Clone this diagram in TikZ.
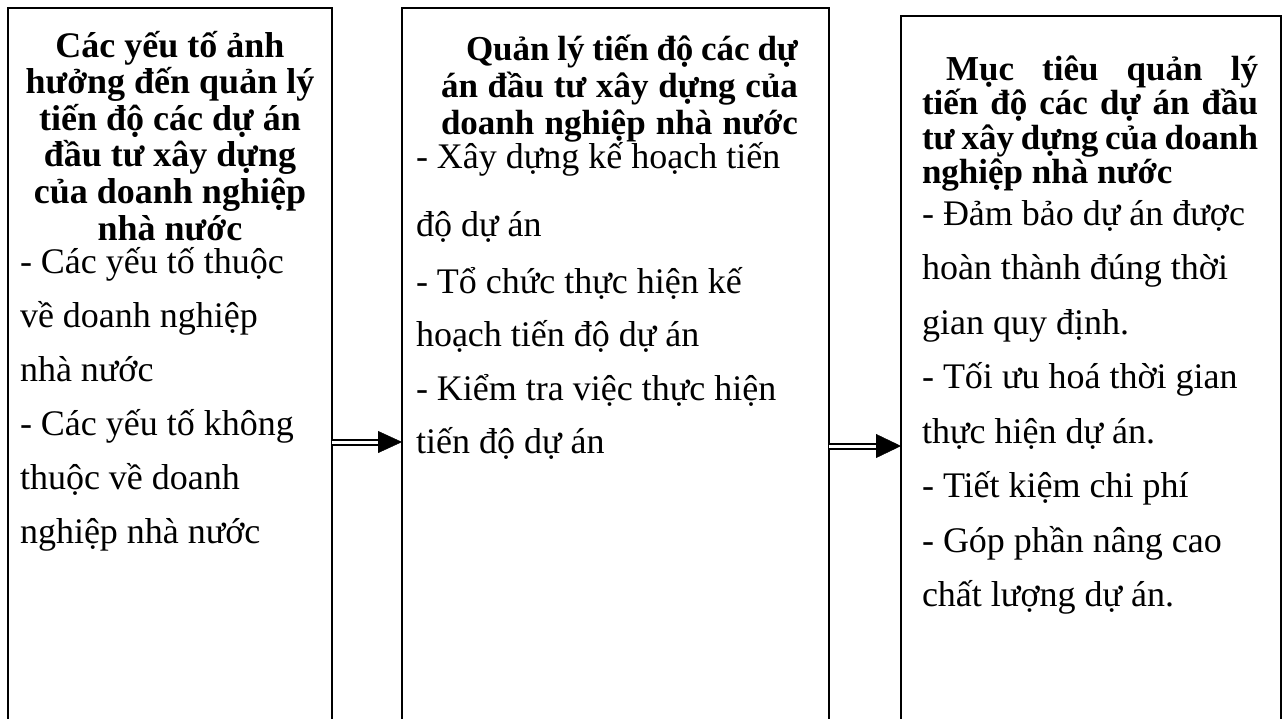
\documentclass[tikz,border=0pt]{standalone}
\usepackage{fontspec}
\setmainfont{Liberation Serif}
\usetikzlibrary{arrows.meta}
\newcommand\jl[2]{\makebox[#1][s]{#2}}
\newcommand\cl[1]{\makebox[300pt][c]{#1}}
\newcommand\fsz{36pt}
\tikzset{
  box/.style={draw, line width=2pt, anchor=north west, inner sep=0pt, outer sep=0pt, minimum height=760pt},
  txt/.style={anchor=base west, inner sep=0pt, outer sep=0pt},
  dbl/.style={draw, line width=2pt, double, double distance=3pt},
  tipline/.style={line width=0.4pt}
}
\begin{document}
\begin{tikzpicture}[x=1pt,y=-1pt]
\useasboundingbox (0,0) rectangle (1284,718);
% boxes (open at the bottom edge of the page)
\node[box, minimum width=324pt] (b1) at (8,8) {};
\node[box, minimum width=427pt] (b2) at (402,8) {};
\node[box, minimum width=380pt] (b3) at (901,16) {};

% box 1 text
\node[txt] (t1) at (20,57) {\parbox[t]{400pt}{\lineskiplimit=-1000pt\lineskip=0pt\parskip=0pt\raggedright
\fontsize{\fsz}{36.6pt}\selectfont\bfseries
\cl{Các yếu tố ảnh}\\
\cl{hưởng đến quản lý}\\
\cl{tiến độ các dự án}\\
\cl{đầu tư xây dựng}\\
\cl{của doanh nghiệp}\\
\cl{nhà nước}\par
\fontsize{\fsz}{33pt}\selectfont\mdseries
- Các yếu tố thuộc\\[21pt]
về doanh nghiệp\\[21pt]
nhà nước\\[21pt]
- Các yếu tố không\\[21pt]
thuộc về doanh\\[21pt]
nghiệp nhà nước\par}};

% box 2 text
\node[txt] (t2) at (416,60) {\parbox[t]{420pt}{\lineskiplimit=-1000pt\lineskip=0pt\parskip=0pt\raggedright
\fontsize{35pt}{37pt}\selectfont\bfseries
\hspace*{50pt}\jl{332pt}{Quản lý tiến độ các dự}\\
\hspace*{25pt}\jl{357pt}{án đầu tư xây dựng của}\\
\hspace*{25pt}\jl{357pt}{doanh nghiệp nhà nước}\par
\fontsize{\fsz}{34pt}\selectfont\mdseries
- Xây dựng kế hoạch tiến\\[34pt]
độ dự án\\[23pt]
- Tổ chức thực hiện kế\\[19.5pt]
hoạch tiến độ dự án\\[19.5pt]
- Kiểm tra việc thực hiện\\[19.5pt]
tiến độ dự án\par}};

% box 3 text
\node[txt] (t3) at (922,80) {\parbox[t]{400pt}{\lineskiplimit=-1000pt\lineskip=0pt\parskip=0pt\raggedright
\fontsize{35pt}{34.5pt}\selectfont\bfseries
\hspace*{24pt}\jl{312pt}{Mục tiêu quản lý}\\
\jl{336pt}{tiến độ các dự án đầu}\\
\jl{336pt}{tư xây dựng của doanh}\\
nghiệp nhà nước\par
\fontsize{\fsz}{41.5pt}\selectfont\mdseries
- Đảm bảo dự án được\\[13pt]
hoàn thành đúng thời\\[13pt]
gian quy định.\\[13pt]
- Tối ưu hoá thời gian\\[13pt]
thực hiện dự án.\\[13pt]
- Tiết kiệm chi phí\\[13pt]
- Góp phần nâng cao\\[13pt]
chất lượng dự án.\par}};

% arrows
\path (b1.north east) ++(0,434) coordinate (a1s);
\path (b2.north west) ++(0,434) coordinate (a1e);
\path (a1e) ++(-24,0) coordinate (a1h);
\draw[dbl] (a1s) -- ([xshift=2pt]a1h);
\draw[tipline, -{Triangle[length=24pt,width=22pt]}] (a1h) -- (a1e);

\path (b2.north east) ++(0,438) coordinate (a2s);
\path (b3.north west) ++(0,430) coordinate (a2e);
\path (a2e) ++(-25,0) coordinate (a2h);
\draw[dbl] (a2s) -- ([xshift=2pt]a2h);
\draw[tipline, -{Triangle[length=25pt,width=24pt]}] (a2h) -- (a2e);
\end{tikzpicture}
\end{document}
